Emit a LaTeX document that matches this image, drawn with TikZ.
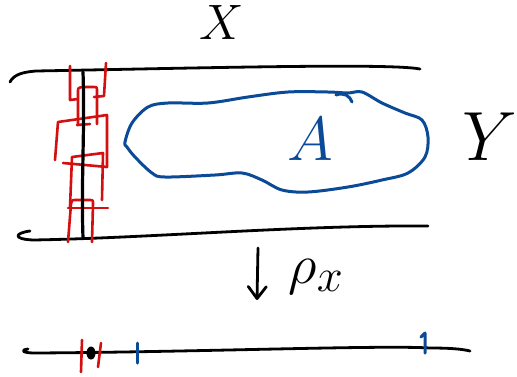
\documentclass[tikz,border=0pt]{standalone}
\usepackage{graphicx}
\usetikzlibrary{arrows.meta}
\definecolor{penred}{HTML}{D40F0F}
\definecolor{penblue}{HTML}{0B4A96}
\begin{document}
\begin{tikzpicture}[x=1pt, y=-1pt, line cap=round, line join=round]
  \tikzstyle{ink}=[draw=black,line width=2.8pt]
  \tikzstyle{redink}=[draw=penred,line width=2.6pt]
  \tikzstyle{blueink}=[draw=penblue,line width=3pt]
  \useasboundingbox (0,0) rectangle (517,376);
  % the strip
  \draw[ink] (10,82) .. controls (14,74) and (24,72) .. (36,71) .. controls (200,68) and (390,63) .. (420,69);
  \draw[ink] (30,231) .. controls (15,233) and (12,239) .. (33,240) .. controls (150,238) and (300,225) .. (428,226);
  % red chain
  \draw[redink] (70,66) -- (70,100) -- (78,99);
  \draw[redink] (106,63) -- (104,96) -- (94,97);
  \draw[redink] (78,125) -- (78,92) .. controls (78,88) .. (82,87) -- (93,87) .. controls (97,87) .. (97,91) -- (97,124);
  \draw[redink] (77,125) -- (90,124);
  \draw[redink] (55,160) -- (58,122) -- (107,115) -- (107,167);
  \draw[redink] (63,163) -- (107,167);
  \draw[redink] (70,207) -- (72,157) -- (103,153) -- (102,200);
  \draw[redink] (68,242) -- (71,204) .. controls (72,200) .. (76,200) -- (89,200) .. controls (93,200) .. (93,204) -- (92,242);
  \draw[redink] (68,208) -- (108,208);
  \draw[ink,line width=3.2pt] (83,72) .. controls (85,130) and (81,180) .. (83,238);
  % blob A
  \draw[blueink] plot[smooth cycle, tension=0.55] coordinates {
    (125,142) (132,123) (148,107) (168,103) (208,103) (248,97) (288,92) (328,92)
    (348,93) (362,92) (382,103) (405,113) (422,120) (428,137) (425,157) (408,173)
    (382,180) (348,187) (308,192) (282,190) (262,180) (242,173) (215,175) (165,177)
    (152,173) (135,157) (127,147)};
  \draw[blueink] (336,95) .. controls (344,92) and (350,96) .. (352,102);
  % labels
  \node (xlab) at (222,22) {\scalebox{2}{\Huge$X$}};
  \node (ylab) at (490,137) {\scalebox{2.8}{\Huge$Y$}};
  \node[text=penblue] (alab) at (310,139) {\scalebox{2.5}{\Huge$A$}};
  \node[anchor=base west] (rholab) at (285,283) {\scalebox{2.25}{\Huge$\rho_x$}};
  \coordinate (arrtop) at (258,248);
  \coordinate (arrtip) at (257,300);
  \draw[ink,-{Straight Barb[round,length=12pt,width=18pt]}] (arrtop) -- (arrtip);
  % bottom axis
  \draw[ink] (28,349) .. controls (20,350) and (22,353) .. (35,353) .. controls (200,352) and (380,345) .. (430,348) .. controls (450,348) and (462,349) .. (470,351);
  \draw[redink] (82,340) -- (81,372);
  \draw[redink] (101,343) -- (98,367);
  \fill (91,353) ellipse (4.5 and 6.5);
  \draw[blueink] (137,343) -- (137,363);
  \draw[blueink] (421,337) -- (425,333) -- (425,353);
\end{tikzpicture}
\end{document}
